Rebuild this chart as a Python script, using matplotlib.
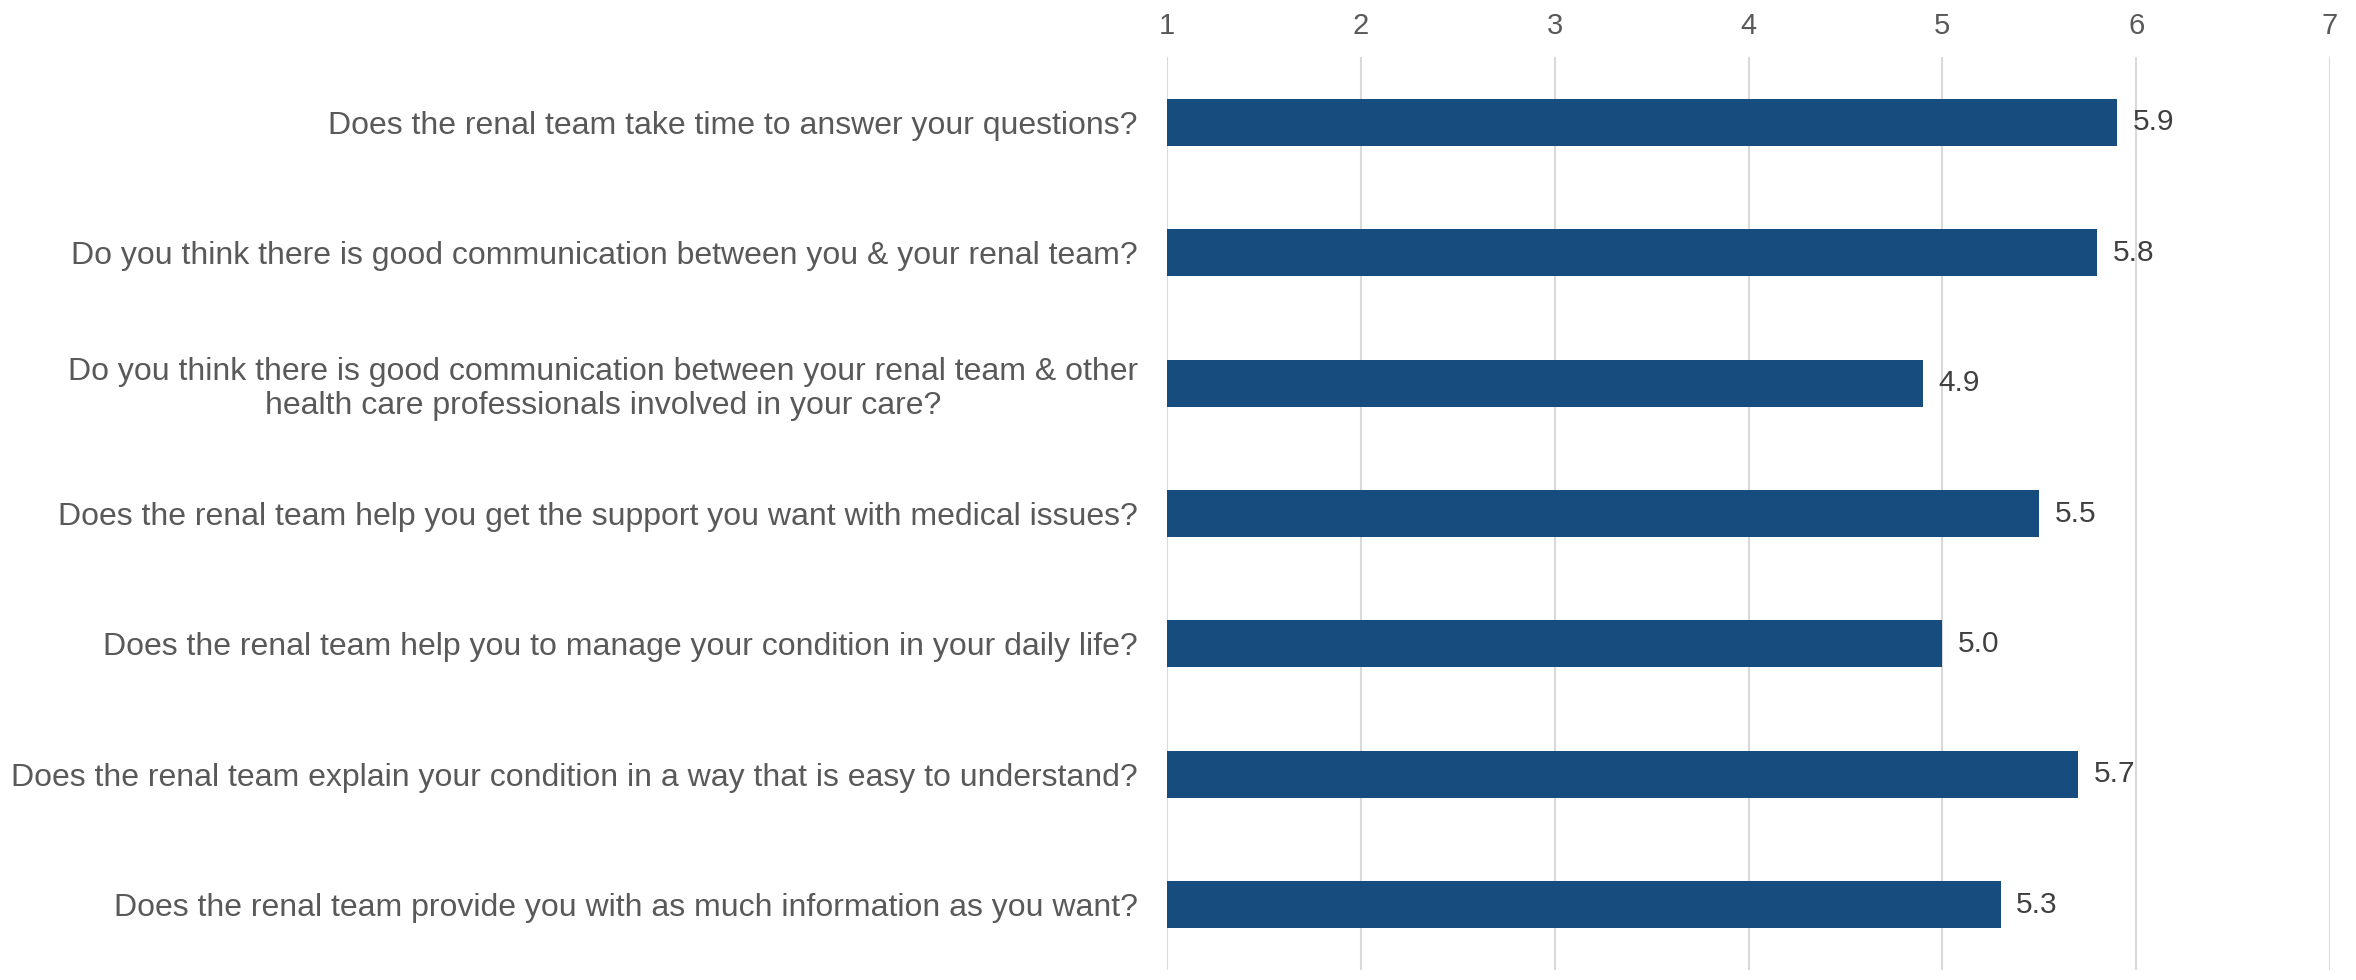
import matplotlib
matplotlib.use("Agg")
import matplotlib.pyplot as plt

categories = [
    "Does the renal team take time to answer your questions?",
    "Do you think there is good communication between you & your renal team?",
    "Do you think there is good communication between your renal team & other\nhealth care professionals involved in your care?",
    "Does the renal team help you get the support you want with medical issues?",
    "Does the renal team help you to manage your condition in your daily life?",
    "Does the renal team explain your condition in a way that is easy to understand?",
    "Does the renal team provide you with as much information as you want?",
]
values = [5.9, 5.8, 4.9, 5.5, 5.0, 5.7, 5.3]
xticks = [1, 2, 3, 4, 5, 6, 7]

plt.rcParams['font.family'] = ['Liberation Sans', 'DejaVu Sans']

fig = plt.figure(figsize=(23.56, 9.8), dpi=100)
ax = fig.add_axes([0.4953, 0.0102, 0.4937, 0.9316])

ypos = list(range(len(categories)))
ax.barh(ypos, [v - 1 for v in values], left=1, height=0.36, color='#174C7F', zorder=3)
for y, v in zip(ypos, values):
    ax.text(v + 0.08, y, f"{v:.1f}", va='center', ha='left', fontsize=21.5, color='#404040')

ax.set_xlim(1, 7)
ax.set_ylim(len(categories) - 0.5, -0.5)
ax.set_xticks(xticks)
ax.set_xticklabels([str(t) for t in xticks])
ax.xaxis.tick_top()
ax.tick_params(axis='x', length=0, labelsize=21, labelcolor='#595959', pad=12)
ax.set_yticks(ypos)
ax.set_yticklabels(categories, fontsize=23, color='#595959', ha='right', multialignment='center')
ax.tick_params(axis='y', length=0, pad=21)
ax.grid(axis='x', color='#D9D9D9', linewidth=1.5, zorder=0)
for s in ax.spines.values():
    s.set_visible(False)

fig.savefig("out.png", dpi=100)
